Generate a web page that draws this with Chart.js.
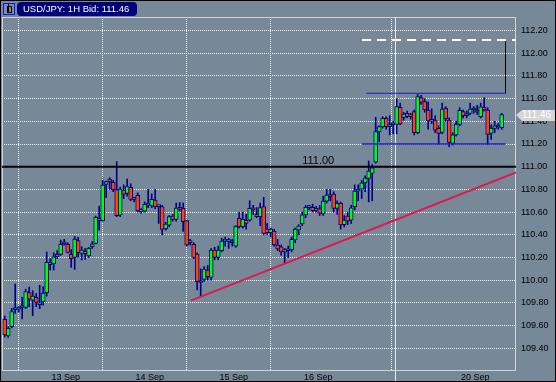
<!DOCTYPE html>
<html><head><meta charset="utf-8">
<script src="https://cdn.jsdelivr.net/npm/chart.js@4.4.1/dist/chart.umd.min.js"></script>
<style>
html,body{margin:0;padding:0;background:#778899;}
#wrap{position:relative;width:556px;height:382px;overflow:hidden;}
canvas{position:absolute;left:0;top:0;}
#frame{position:absolute;left:0;top:0;width:556px;height:382px;box-sizing:border-box;border:1px solid #000;pointer-events:none;}
#badge{position:absolute;left:17px;top:2px;width:120px;height:14px;background:#00007b;border-radius:4px;color:#fff;font:9.5px "Liberation Sans",Arial,sans-serif;line-height:14px;padding-left:6px;box-sizing:border-box;white-space:nowrap;}
#icon{position:absolute;left:3px;top:3px;width:12px;height:12px;box-sizing:border-box;border:1px solid #1010ff;background:#7a8ca0;}
#icon i{position:absolute;left:3px;top:2px;width:3px;height:5px;border:1px solid #000;}
#icon b{position:absolute;left:4px;top:0px;width:1px;height:9px;background:#000;}
</style></head><body>
<div id="wrap">
<canvas id="c" width="556" height="382"></canvas>
<div id="icon"><b></b><i></i></div>
<div id="badge">USD/JPY: 1H Bid: 111.46</div>
<div id="frame"></div>
</div>
<script>
// ---- data (hourly candles, index 0 = first bar) ----
const opens  = [109.655,109.51,109.59,109.74,109.745,109.76,109.76,109.89,109.825,109.849,109.785,109.81,109.89,110.137,110.143,110.228,110.228,110.33,110.316,110.228,110.20,110.349,110.237,110.257,110.213,110.295,110.325,110.545,110.525,110.845,110.892,110.862,110.798,110.574,110.795,110.765,110.818,110.712,110.748,110.604,110.609,110.662,110.654,110.706,110.648,110.648,110.454,110.486,110.565,110.536,110.642,110.633,110.525,110.33,110.316,110.23,109.99,110.008,110.09,110.025,110.266,110.20,110.26,110.345,110.34,110.345,110.30,110.545,110.472,110.53,110.53,110.633,110.58,110.56,110.648,110.45,110.42,110.433,110.31,110.295,110.25,110.27,110.27,110.354,110.443,110.495,110.575,110.64,110.642,110.615,110.63,110.583,110.697,110.753,110.759,110.633,110.677,110.49,110.565,110.53,110.648,110.785,110.803,110.86,110.897,110.941,111.039,111.309,111.353,111.426,111.353,111.37,111.373,111.523,111.435,111.47,111.44,111.485,111.30,111.608,111.573,111.50,111.40,111.41,111.338,111.302,111.514,111.411,111.206,111.28,111.373,111.485,111.46,111.47,111.51,111.50,111.44,111.525,111.50,111.294,111.338,111.36,111.344];
const highs  = [109.685,109.59,109.752,109.967,109.767,109.85,109.92,109.94,109.908,109.884,109.955,109.943,110.248,110.19,110.242,110.26,110.354,110.36,110.33,110.27,110.385,110.378,110.295,110.28,110.29,110.34,110.565,110.653,110.877,110.874,110.903,110.88,111.044,110.82,110.84,110.892,110.85,110.73,110.77,110.63,110.69,110.80,110.76,110.80,110.66,110.66,110.51,110.57,110.58,110.68,110.685,110.68,110.53,110.36,110.33,110.24,110.10,110.12,110.13,110.28,110.29,110.30,110.37,110.38,110.37,110.36,110.48,110.60,110.60,110.58,110.70,110.66,110.64,110.68,110.73,110.50,110.46,110.45,110.36,110.31,110.28,110.30,110.38,110.46,110.49,110.60,110.66,110.66,110.67,110.65,110.66,110.74,110.80,110.80,110.78,110.70,110.69,110.57,110.60,110.66,110.84,110.84,110.88,110.92,111.05,111.02,111.435,111.36,111.44,111.44,111.45,111.40,111.60,111.56,111.48,111.49,111.47,111.50,111.637,111.63,111.60,111.57,111.51,111.45,111.36,111.56,111.53,111.43,111.30,111.40,111.52,111.50,111.49,111.56,111.53,111.54,111.56,111.607,111.52,111.37,111.40,111.38,111.47];
const lows   = [109.50,109.496,109.58,109.708,109.72,109.66,109.75,109.767,109.687,109.767,109.75,109.78,109.86,110.09,110.09,110.19,110.219,110.31,110.24,110.113,110.096,110.202,110.178,110.184,110.20,110.28,110.32,110.442,110.52,110.727,110.80,110.78,110.56,110.56,110.72,110.74,110.70,110.69,110.60,110.59,110.60,110.64,110.64,110.63,110.50,110.40,110.44,110.47,110.52,110.52,110.61,110.43,110.30,110.31,110.19,109.915,109.855,109.99,110.0,110.0,110.18,110.18,110.25,110.30,110.28,110.30,110.29,110.46,110.46,110.45,110.52,110.58,110.55,110.48,110.40,110.40,110.38,110.30,110.26,110.22,110.15,110.20,110.25,110.33,110.40,110.48,110.55,110.62,110.60,110.60,110.57,110.57,110.68,110.70,110.60,110.58,110.45,110.47,110.49,110.50,110.62,110.70,110.72,110.78,110.69,110.70,111.03,111.22,111.34,111.33,111.28,111.29,111.29,111.37,111.41,111.43,111.42,111.28,111.29,111.55,111.48,111.33,111.38,111.30,111.20,111.29,111.40,111.176,111.19,111.27,111.36,111.43,111.43,111.46,111.47,111.46,111.43,111.49,111.197,111.24,111.30,111.33,111.33];
const closes = [109.517,109.576,109.723,109.745,109.75,109.77,109.899,109.834,109.86,109.805,109.802,109.884,110.157,110.148,110.207,110.207,110.316,110.32,110.246,110.19,110.363,110.243,110.266,110.231,110.28,110.319,110.554,110.522,110.839,110.868,110.868,110.798,110.569,110.803,110.757,110.824,110.712,110.715,110.613,110.624,110.668,110.667,110.712,110.645,110.652,110.448,110.495,110.56,110.536,110.636,110.624,110.515,110.31,110.35,110.20,109.987,109.98,110.099,110.031,110.266,110.20,110.266,110.345,110.35,110.345,110.33,110.474,110.47,110.536,110.50,110.633,110.62,110.56,110.64,110.413,110.42,110.45,110.31,110.275,110.25,110.27,110.26,110.36,110.45,110.477,110.575,110.642,110.645,110.613,110.63,110.59,110.697,110.75,110.736,110.633,110.677,110.487,110.53,110.52,110.638,110.785,110.80,110.859,110.90,110.962,110.99,111.309,111.353,111.426,111.353,111.37,111.37,111.529,111.376,111.464,111.44,111.46,111.30,111.617,111.567,111.50,111.403,111.41,111.323,111.294,111.508,111.42,111.215,111.28,111.373,111.496,111.45,111.45,111.508,111.50,111.48,111.528,111.50,111.285,111.338,111.36,111.35,111.46];

// time axis: day separators (bar index) and their labels
const dayTickIdx   = [15.9, 39.9, 63.9, 88, 132.9];
const dayLabels    = ['13 Sep', '14 Sep', '15 Sep', '16 Sep', '20 Sep'];
const weekBreakIdx = 111.5;

// price axis ticks
const yTickVals = [109.4,109.6,109.8,110.0,110.2,110.4,110.6,110.8,111.0,111.2,111.4,111.6,111.8,112.0,112.2];

// drawn studies (bar index, price)
const levelPrice   = 111.00;
const trendX       = [53.2, 146.1];
const trendY       = [109.82, 110.95];
const rangeTopX    = [103.3, 143.1];
const rangeTopY    = 111.647;
const rangeBotX    = [102.1, 143.1];
const rangeBotY    = 111.20;
const targetX      = [102.1, 146.1];
const targetY      = 112.116;
const measureX     = 143.1;
const measureY     = [111.647, 112.116];
const levelLabelIdx = 85;

const xMin = -0.77, xMax = 146.09, yMin = 109.209, yMax = 112.319;

const idx = opens.map((_, i) => i);
const upBar = idx.map(i => closes[i] >= opens[i]);
const bodyData = idx.map(i => ({x: i, y: [opens[i], closes[i]]}));
const wickData = idx.map(i => ({x: i, y: [lows[i], highs[i]]}));

const FONT = '"Liberation Sans", Arial, sans-serif';
Chart.defaults.font.family = FONT;
Chart.defaults.font.size = 9;
Chart.defaults.color = '#000';

const overlay = {
  id: 'overlay',
  beforeDraw(chart) {
    const c = chart.ctx;
    c.save(); c.fillStyle = '#778899'; c.fillRect(0, 0, chart.width, chart.height); c.restore();
  },
  beforeDatasetsDraw(chart) {
    const c = chart.ctx, a = chart.chartArea, xs = chart.scales.x;
    c.save();
    c.strokeStyle = '#d4d4d4'; c.lineWidth = 1;
    c.strokeRect(Math.round(a.left) + 0.5, Math.round(a.top) + 0.5, Math.round(a.right - a.left) - 1, Math.round(a.bottom - a.top));
    const wx = Math.round(xs.getPixelForValue(weekBreakIdx)) + 0.5;
    c.strokeStyle = '#e6e6e6';
    c.beginPath(); c.moveTo(wx, a.top); c.lineTo(wx, chart.height); c.stroke();
    c.restore();
  },
  afterDatasetsDraw(chart) {
    const c = chart.ctx, xs = chart.scales.x, ys = chart.scales.y, a = chart.chartArea;
    c.save();
    c.font = '11px ' + FONT;
    c.fillStyle = '#000'; c.textBaseline = 'alphabetic'; c.textAlign = 'left';
    c.fillText(levelPrice.toFixed(2), xs.getPixelForValue(levelLabelIdx), ys.getPixelForValue(levelPrice) - 3);
    // last price tag
    const last = closes[closes.length - 1];
    const py = Math.round(ys.getPixelForValue(last));
    const x0 = Math.round(a.right);
    c.fillStyle = '#d6d6d6';
    c.beginPath();
    c.moveTo(x0, py); c.lineTo(x0 + 6, py - 5); c.lineTo(x0 + 39, py - 5);
    c.lineTo(x0 + 39, py + 6); c.lineTo(x0 + 6, py + 6); c.closePath(); c.fill();
    c.fillStyle = '#ffffff'; c.font = '10px ' + FONT; c.textBaseline = 'middle';
    c.fillText(last.toFixed(2), x0 + 6, py + 0.5);
    c.restore();
  }
};

const lineDs = (xsArr, ysArr, color, width, dash, order) => ({
  type: 'line',
  data: xsArr.map((x, k) => ({x, y: ysArr[k]})),
  borderColor: color, borderWidth: width, borderDash: dash || [],
  pointRadius: 0, tension: 0, fill: false, order
});

new Chart(document.getElementById('c'), {
  type: 'bar',
  data: {
    datasets: [
      {
        type: 'bar', data: bodyData, grouped: false, barThickness: 4, minBarLength: 2,
        backgroundColor: idx.map(i => upBar[i] ? '#00ff00' : '#ff4500'),
        borderColor: '#00008b', borderWidth: 1, borderSkipped: false, order: 2
      },
      {
        type: 'bar', data: wickData, grouped: false, barThickness: 1,
        backgroundColor: '#00008b', borderWidth: 0, order: 3
      },
      lineDs([xMin, xMax], [levelPrice, levelPrice], '#000000', 2, null, 1),
      lineDs(trendX, trendY, '#e0184a', 2, null, 1),
      lineDs(rangeTopX, [rangeTopY, rangeTopY], '#1a1ad0', 1, null, 1),
      lineDs(rangeBotX, [rangeBotY, rangeBotY], '#1a1ad0', 1.5, null, 1),
      lineDs(targetX, [targetY, targetY], '#ffffff', 2, [9, 6], 1),
      lineDs([measureX, measureX], measureY, '#000000', 1, null, 1)
    ]
  },
  options: {
    responsive: false, animation: false, devicePixelRatio: 1,
    layout: {padding: {top: 17, left: 2, right: 0, bottom: 0}},
    plugins: {legend: {display: false}, tooltip: {enabled: false}},
    scales: {
      x: {
        type: 'linear', position: 'bottom', min: xMin, max: xMax, offset: false,
        afterBuildTicks: s => { s.ticks = dayTickIdx.map(v => ({value: v})); },
        afterFit: s => { s.height = 12; },
        grid: {color: 'rgba(255,255,255,0.9)', lineWidth: 1, drawTicks: false},
        border: {display: false, dash: [1, 1]},
        ticks: {padding: 2, labelOffset: 5.5, maxRotation: 0, autoSkip: false, color: '#000',
                font: {size: 9}, callback: (v, i) => dayLabels[i]}
      },
      y: {
        type: 'linear', position: 'right', min: yMin, max: yMax,
        afterBuildTicks: s => { s.ticks = yTickVals.map(v => ({value: v})); },
        afterFit: s => { s.width = 40; },
        grid: {color: 'rgba(255,255,255,0.9)', lineWidth: 1, drawTicks: false},
        border: {display: false, dash: [1, 1]},
        ticks: {padding: 5, color: '#000', font: {size: 9}, callback: v => v.toFixed(2)}
      }
    }
  },
  plugins: [overlay]
});
</script>
</body></html>
